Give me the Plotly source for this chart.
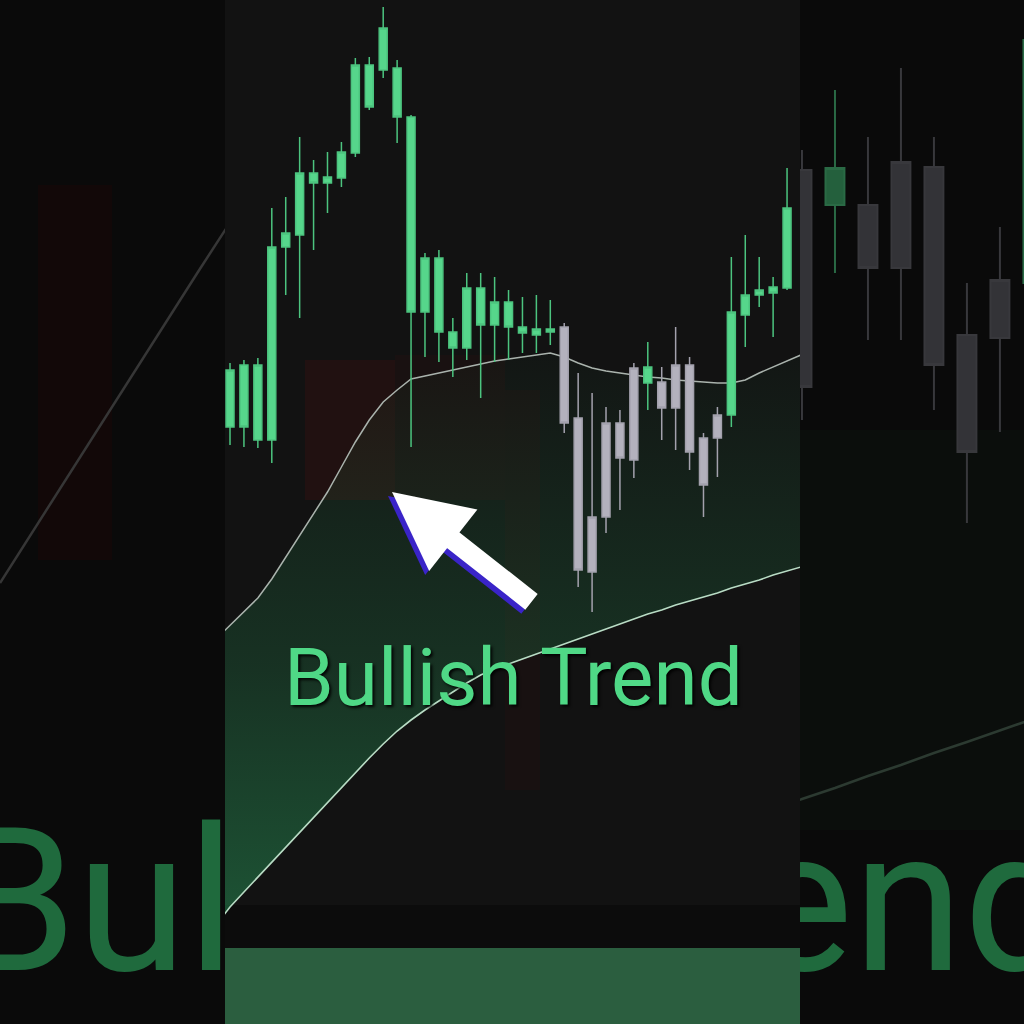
import plotly.graph_objects as go

W = H = 1024

# ---------------- DATA ----------------
# centre chart: 41 candles (chart price units)
candle_idx = list(range(41))
opens = [597, 659, 584, 584, 777, 789, 851, 841, 846, 871,
         959, 954, 956, 907, 712, 766, 692, 676, 736, 699,
         722, 697, 689, 695, 697, 606, 452, 507, 601, 564,
         641, 642, 616, 659, 586, 586, 609, 709, 729, 737, 736]
highs = [661, 664, 666, 816, 827, 887, 864, 872, 882, 966,
         967, 1017, 964, 909, 771, 774, 706, 751, 751, 747,
         734, 727, 729, 724, 701, 651, 631, 617, 614, 661,
         682, 657, 697, 667, 591, 617, 767, 789, 767, 747, 856]
lows = [579, 577, 576, 561, 729, 706, 774, 811, 837, 867,
        914, 946, 881, 577, 667, 662, 647, 664, 626, 662,
        664, 671, 671, 679, 591, 437, 412, 491, 514, 546,
        614, 584, 574, 554, 507, 547, 597, 677, 717, 687, 734]
closes = [654, 597, 659, 777, 791, 851, 841, 847, 872, 959,
          917, 996, 907, 712, 766, 692, 676, 736, 699, 722,
          697, 691, 695, 692, 601, 454, 507, 601, 566, 656,
          657, 616, 659, 572, 539, 609, 712, 729, 734, 731, 816]
trend = ['bull'] * 24 + ['flat'] * 6 + ['bull'] + ['flat'] * 5 + ['bull'] * 5

# moving average and lower trend band (index -1 .. 41)
line_idx = list(range(-1, 42))
ma_vals = [385, 399, 413, 426, 445, 467, 489, 510, 532, 557, 582,
           604, 622, 634, 645, 648, 651, 654, 657, 660, 663,
           665, 667, 669, 671, 667, 661, 656, 653, 651, 649,
           647, 646, 644, 643, 642, 641, 641, 644, 651, 657, 663, 669]
lower_vals = [99, 117, 132, 147, 162, 177, 191, 206, 221, 236, 251,
              266, 280, 293, 304, 314, 323, 332, 341, 349, 355,
              360, 365, 370, 375, 380, 385, 390, 395, 400, 405,
              410, 414, 419, 423, 427, 431, 436, 440, 444, 449, 453, 457]

# right (zoomed background) candles
r_idx = list(range(8))
r_open = [854, 819, 819, 756, 857, 689, 686, 741]
r_high = [874, 934, 887, 956, 887, 741, 797, 1014]
r_low = [604, 751, 684, 684, 614, 501, 592, 724]
r_close = [637, 856, 756, 862, 659, 572, 744, 984]
r_trend = ['flat', 'bull', 'flat', 'flat', 'flat', 'flat', 'flat', 'bull']
r_line_idx = list(range(-1, 8))
r_line_vals = [213, 225, 236, 248, 259, 271, 282, 294, 305]

# left (zoomed background) moving average
l_line_idx = list(range(8))
l_line_vals = [441, 493, 545, 597, 648, 700, 752, 803]

title_text = "Bullish Trend"

# ---------------- STYLE ----------------
GREEN = '#56d68b'
GREEN_LINE = '#4cc47f'
GRAY = '#b3b1bd'
GRAY_LINE = '#a3a1ad'
BG_SIDE = '#0a0a0a'
BG_CENTER = '#121212'

def X(p):
    return p / W

def Y(p):
    return 1 - p / H

fig = go.Figure()

# fill + lines (under candles, subplot xy)
fig.add_trace(go.Scatter(x=line_idx, y=lower_vals, mode='lines',
                         line=dict(color='#b9dcc5', width=1.6),
                         xaxis='x', yaxis='y', hoverinfo='skip'))
fig.add_trace(go.Scatter(x=line_idx, y=ma_vals, mode='lines',
                         line=dict(color='#aab3ad', width=1.5),
                         fill='tonexty',
                         fillgradient=dict(type='vertical',
                                           colorscale=[[0, 'rgba(40,150,88,0.50)'],
                                                       [0.45, 'rgba(40,150,88,0.24)'],
                                                       [1, 'rgba(40,150,88,0.03)']]),
                         xaxis='x', yaxis='y', hoverinfo='skip'))

# centre candles, grouped by colour
for grp, fc, lc in [('bull', GREEN, GREEN_LINE), ('flat', GRAY, GRAY_LINE)]:
    sel = [i for i in candle_idx if trend[i] == grp]
    fig.add_trace(go.Candlestick(
        x=[candle_idx[i] for i in sel],
        open=[opens[i] for i in sel], high=[highs[i] for i in sel],
        low=[lows[i] for i in sel], close=[closes[i] for i in sel],
        increasing=dict(fillcolor=fc, line=dict(color=lc, width=1.5)),
        decreasing=dict(fillcolor=fc, line=dict(color=lc, width=1.5)),
        whiskerwidth=0, xaxis='x2', yaxis='y2', hoverinfo='skip'))

# right background panel
fig.add_trace(go.Scatter(x=r_line_idx, y=r_line_vals, mode='lines',
                         line=dict(color='#2c3a31', width=2.5),
                         xaxis='x3', yaxis='y3', hoverinfo='skip'))
for grp, fc, lc in [('flat', '#333337', '#38383c'), ('bull', '#24603d', '#2a6a45')]:
    sel = [i for i in r_idx if r_trend[i] == grp]
    fig.add_trace(go.Candlestick(
        x=[r_idx[i] for i in sel],
        open=[r_open[i] for i in sel], high=[r_high[i] for i in sel],
        low=[r_low[i] for i in sel], close=[r_close[i] for i in sel],
        increasing=dict(fillcolor=fc, line=dict(color=lc, width=2)),
        decreasing=dict(fillcolor=fc, line=dict(color=lc, width=2)),
        whiskerwidth=0, xaxis='x3', yaxis='y3', hoverinfo='skip'))
fig.add_trace(go.Scatter(x=[-1.667], y=[104], mode='text', text=[title_text.split()[1][-3:]],
                         textposition='middle right',
                         textfont=dict(family='Roboto', size=200, color='#1f6a3d'),
                         cliponaxis=True, xaxis='x3', yaxis='y3', hoverinfo='skip'))

# left background panel
fig.add_trace(go.Scatter(x=l_line_idx, y=l_line_vals, mode='lines',
                         line=dict(color='#363636', width=2.5),
                         xaxis='x4', yaxis='y4', hoverinfo='skip'))
fig.add_trace(go.Scatter(x=[-1.455], y=[104], mode='text', text=[title_text[:3]],
                         textposition='middle right',
                         textfont=dict(family='Roboto', size=200, color='#1f6a3d'),
                         cliponaxis=True, xaxis='x4', yaxis='y4', hoverinfo='skip'))

# ---------------- background shapes ----------------
def rect(x0, y0, x1, y1, color):
    return dict(type='rect', xref='paper', yref='paper', layer='below',
                x0=X(x0), x1=X(x1), y0=Y(y1), y1=Y(y0),
                fillcolor=color, line=dict(width=0))

shapes = [
    rect(225, 0, 800, 1024, BG_CENTER),
    rect(800, 430, 1024, 830, '#0b0e0c'),
    rect(38, 185, 112, 560, 'rgba(40,8,8,0.30)'),
    rect(305, 360, 395, 500, 'rgba(70,16,16,0.30)'),
    rect(395, 355, 505, 500, 'rgba(60,16,16,0.18)'),
    rect(505, 390, 540, 790, 'rgba(55,14,14,0.18)'),
    rect(225, 905, 800, 948, '#0c0c0c'),
    rect(225, 948, 800, 1024, '#2b5e3f'),
]

annotations = [
    dict(x=X(388), y=Y(496), xref='paper', yref='paper', ax=141, ay=111,
         text='', showarrow=True, arrowhead=2, arrowsize=0.78, arrowwidth=20,
         arrowcolor='#3a24c8', standoff=0),
    dict(x=X(392), y=Y(492), xref='paper', yref='paper', ax=141, ay=111,
         text='', showarrow=True, arrowhead=2, arrowsize=0.78, arrowwidth=20,
         arrowcolor='#ffffff', standoff=0),
    dict(x=X(513), y=Y(678), xref='paper', yref='paper', text=title_text,
         showarrow=False, xanchor='center', yanchor='middle',
         font=dict(family='Roboto', size=80, color='#4fd886',
                   shadow='2px 2px 3px rgba(0,0,0,0.9)')),
]

ax_common = dict(visible=False, showgrid=False, zeroline=False, fixedrange=True)
yr = [0, 1024]
fig.update_layout(
    width=W, height=H, margin=dict(l=0, r=0, t=0, b=0),
    paper_bgcolor=BG_SIDE, plot_bgcolor='rgba(0,0,0,0)',
    showlegend=False, boxgap=0.18, boxmode='overlay',
    shapes=shapes, annotations=annotations,
    xaxis=dict(domain=[X(225), X(800)], range=[-0.36, 40.93], anchor='y', **ax_common),
    yaxis=dict(domain=[0, 1], range=yr, anchor='x', **ax_common),
    xaxis2=dict(domain=[X(225), X(800)], range=[-0.36, 40.93], anchor='y2',
                rangeslider=dict(visible=False), **ax_common),
    yaxis2=dict(domain=[0, 1], range=yr, anchor='x2', **ax_common),
    xaxis3=dict(domain=[X(800), 1], range=[-0.06, 6.73], anchor='y3',
                rangeslider=dict(visible=False), **ax_common),
    yaxis3=dict(domain=[0, 1], range=yr, anchor='x3', **ax_common),
    xaxis4=dict(domain=[0, X(225)], range=[0, 6.82], anchor='y4', **ax_common),
    yaxis4=dict(domain=[0, 1], range=yr, anchor='x4', **ax_common),
)

fig.write_html("out.html", config={'displayModeBar': False},
               post_script="document.body.style.margin='0';"
                           "document.body.style.background='#0a0a0a';"
                           "document.body.style.overflow='hidden';")
